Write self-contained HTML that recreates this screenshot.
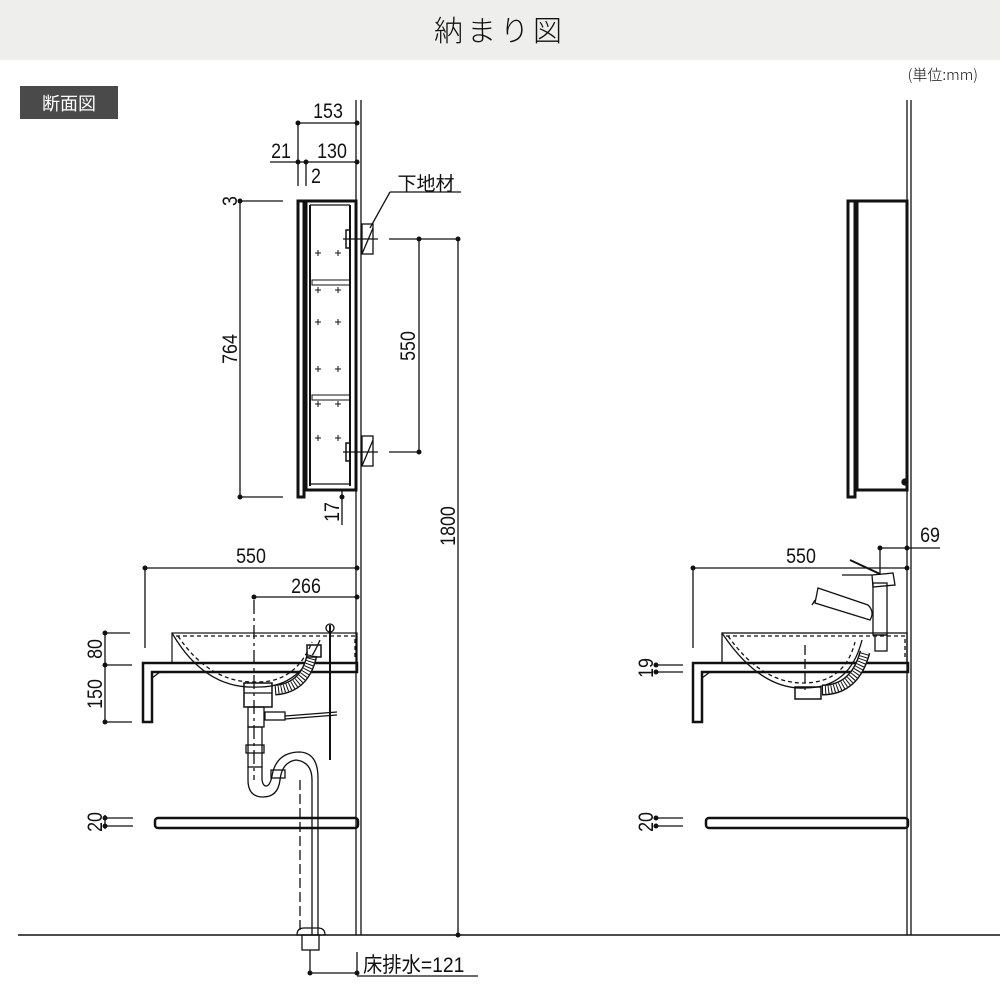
<!DOCTYPE html>
<html><head><meta charset="utf-8"><style>
html,body{margin:0;padding:0;background:#fff;}
svg{display:block;}
text{font-family:"Liberation Sans","Noto Sans CJK JP",sans-serif;fill:#111;}
</style></head><body>
<svg width="1000" height="1000" viewBox="0 0 1000 1000" xmlns="http://www.w3.org/2000/svg">
<rect x="0" y="0" width="1000" height="60" fill="#eeeeec"/>
<text x="500" y="41" font-size="29" text-anchor="middle" font-weight="300" fill="#333" style="font-family:'Noto Sans CJK JP',sans-serif;font-weight:300" letter-spacing="4">納まり図</text>
<text x="978" y="80" font-size="15" text-anchor="end" fill="#333" style="font-family:'Noto Sans CJK JP',sans-serif;font-weight:300">(単位:mm)</text>
<rect x="20" y="86" width="98" height="33" fill="#4a4a4a"/>
<text x="69" y="110" font-size="18" text-anchor="middle" style="fill:#fff">断面図</text>

<g stroke="#111" fill="none" stroke-width="1.3">
<line x1="356" y1="100" x2="356" y2="935"/><line x1="361" y1="100" x2="361" y2="935"/>
<line x1="907" y1="100" x2="907" y2="935"/><line x1="911" y1="100" x2="911" y2="935"/>
<line x1="18" y1="935" x2="1000" y2="935" stroke-width="1.5"/>

<rect x="298" y="201" width="6" height="296" stroke-width="3"/>
<rect x="306" y="201" width="50" height="289" stroke-width="3"/>
<line x1="310" y1="205" x2="310" y2="486" stroke-width="2"/>
<line x1="350" y1="205" x2="350" y2="486" stroke-width="2"/>
<line x1="310" y1="205" x2="350" y2="205"/>
<line x1="310" y1="484" x2="350" y2="484"/>
<rect x="312" y="280" width="38" height="5" stroke-width="1"/>
<rect x="312" y="395" width="38" height="5" stroke-width="1"/>
<rect x="346" y="230" width="4" height="18" stroke-width="1.5"/>
<rect x="346" y="443" width="4" height="18" stroke-width="1.5"/>
<rect x="362" y="224" width="11" height="30"/><line x1="362" y1="254" x2="373" y2="228"/>
<rect x="362" y="436" width="11" height="30"/><line x1="362" y1="466" x2="373" y2="440"/>
<line x1="343" y1="239" x2="378" y2="239"/><line x1="343" y1="452" x2="378" y2="452"/>
<g stroke-width="1">
<path d="M315,253h6M318,250v6M335,253h6M338,250v6 M315,290h6M318,287v6M335,290h6M338,287v6 M315,322h6M318,319v6M335,322h6M338,319v6 M315,369h6M318,366v6M335,369h6M338,366v6 M315,404h6M318,401v6M335,404h6M338,401v6 M315,438h6M318,435v6M335,438h6M338,435v6"/>
</g>
<line x1="298" y1="123" x2="357" y2="123"/>
<line x1="270" y1="162" x2="357" y2="162"/>
<line x1="298" y1="123" x2="298" y2="186"/>
<line x1="306" y1="162" x2="306" y2="186"/>
<line x1="240" y1="201" x2="240" y2="497"/>
<line x1="240" y1="201" x2="283" y2="201"/>
<line x1="240" y1="497" x2="283" y2="497"/>
<line x1="389" y1="239" x2="458" y2="239"/>
<line x1="389" y1="452" x2="419" y2="452"/>
<line x1="419" y1="239" x2="419" y2="452"/>
<line x1="458" y1="239" x2="458" y2="935"/>
<line x1="342" y1="490" x2="342" y2="525"/>
<line x1="390" y1="192" x2="461" y2="192"/>
<line x1="390" y1="192" x2="370" y2="228"/>
<line x1="145" y1="568" x2="357" y2="568"/>
<line x1="145" y1="568" x2="145" y2="648"/>
<line x1="254" y1="597" x2="357" y2="597"/>
<line x1="254" y1="600" x2="254" y2="780" stroke-dasharray="14,4,3,4"/>
<path d="M143,663 H357 V672 H152 V722 H143 Z" stroke-width="2.5"/>
<line x1="152" y1="678" x2="160" y2="672"/>
<rect x="172" y="633" width="185" height="30" stroke-width="1.2"/>
<path d="M176,636 H355 V660" stroke-dasharray="4,3"/>
<path d="M172,633 Q205,690 258,687 Q300,688 320,640" stroke-width="1.3"/>
<path d="M178,636 Q210,684 258,682 Q296,682 312,642" stroke-dasharray="4,3"/>
<path d="M275,690 Q305,688 312,655" stroke-width="11" stroke="#111"/>
<path d="M275,690 Q305,688 312,655" stroke-width="8" stroke="#fff"/>
<path d="M275,690 Q305,688 312,655" stroke-width="8" stroke="#111" stroke-dasharray="1,2"/>
<rect x="307" y="645" width="14" height="12" stroke-width="1.5"/>
<rect x="244" y="683" width="28" height="24" stroke-width="1.5"/>
<line x1="244" y1="693" x2="272" y2="693"/>
<rect x="248" y="707" width="16" height="20"/>
<rect x="265" y="712" width="20" height="8"/>
<line x1="285" y1="716" x2="337" y2="712"/>
<line x1="285" y1="719" x2="337" y2="715"/>
<line x1="330" y1="625" x2="330" y2="760" stroke-width="2"/>
<circle cx="330" cy="628" r="4"/>
<rect x="248" y="727" width="14" height="40"/>
<rect x="246" y="745" width="18" height="8"/>
<path d="M248,767 V780 Q248,797 263,797 Q278,797 280,780 Q282,762 296,760 Q312,762 312,780 V935"/>
<path d="M262,767 V780 Q263,786 266,786 Q270,786 272,776 Q276,752 300,752 Q318,753 318,778 V935" />
<path d="M300,780 V930" stroke-dasharray="10,4"/>
<rect x="271" y="770" width="14" height="8"/>
<path d="M297,935 Q297,928 304,928 H318 Q325,928 325,935 Z"/>
<rect x="302" y="935" width="17" height="15"/>
<line x1="310" y1="950" x2="310" y2="973"/>
<line x1="310" y1="973" x2="357" y2="973"/>
<line x1="357" y1="952" x2="357" y2="973"/>
<line x1="357" y1="976" x2="478" y2="976"/>
<line x1="105" y1="633" x2="105" y2="722"/>
<line x1="105" y1="633" x2="130" y2="633"/>
<line x1="105" y1="665" x2="132" y2="665"/>
<line x1="105" y1="722" x2="132" y2="722"/>
<line x1="105" y1="818" x2="133" y2="818"/>
<line x1="105" y1="826" x2="133" y2="826"/>
<line x1="105" y1="815" x2="105" y2="829"/>
<rect x="155" y="818" width="203" height="10" rx="3" stroke-width="2.5"/>

<rect x="848" y="201" width="7" height="296" stroke-width="3"/>
<rect x="857" y="201" width="50" height="289" stroke-width="3"/>
<circle cx="905" cy="482" r="3" fill="#111"/>
<line x1="693" y1="568" x2="907" y2="568"/>
<line x1="693" y1="568" x2="693" y2="648"/>
<line x1="880" y1="548" x2="940" y2="548"/>
<line x1="880" y1="548" x2="880" y2="575"/>
<path d="M693,663 H908 V672 H702 V722 H693 Z" stroke-width="2.5"/>
<line x1="702" y1="678" x2="710" y2="672"/>
<rect x="722" y="633" width="185" height="30"/>
<path d="M726,636 H905 V660" stroke-dasharray="4,3"/>
<path d="M722,633 Q760,690 805,688 Q850,688 862,640"/>
<path d="M728,636 Q762,684 805,683 Q845,682 855,642" stroke-dasharray="4,3"/>
<path d="M822,690 Q855,690 865,652" stroke-width="11"/>
<path d="M822,690 Q855,690 865,652" stroke-width="8" stroke="#fff"/>
<path d="M822,690 Q855,690 865,652" stroke-width="8" stroke-dasharray="1,2"/>
<rect x="795" y="687" width="26" height="12" stroke-width="1.5"/>
<line x1="805" y1="645" x2="805" y2="690" stroke-dasharray="10,4"/>
<rect x="873" y="583" width="14" height="52"/>
<rect x="875" y="635" width="12" height="16"/>
<path d="M872,575 L893,573 L895,585 L873,587 Z"/>
<line x1="850" y1="560" x2="880" y2="574" stroke-width="2"/>
<line x1="842" y1="575" x2="872" y2="575"/>
<path d="M818,588 L868,605 Q875,612 870,620 L815,603 Z"/>
<line x1="815" y1="600" x2="812" y2="605"/>
<line x1="655" y1="665" x2="683" y2="665"/>
<line x1="655" y1="672" x2="683" y2="672"/>
<line x1="655" y1="818" x2="683" y2="818"/>
<line x1="655" y1="826" x2="683" y2="826"/>
<rect x="706" y="818" width="202" height="10" rx="3" stroke-width="2.5"/>
</g>

<g fill="#111">
<circle cx="298" cy="123" r="2.5"/><circle cx="357" cy="123" r="2.5"/>
<circle cx="298" cy="162" r="2.5"/><circle cx="306" cy="162" r="2.5"/><circle cx="357" cy="162" r="2.5"/>
<circle cx="240" cy="201" r="2.5"/><circle cx="240" cy="497" r="2.5"/>
<circle cx="419" cy="239" r="2.5"/><circle cx="419" cy="452" r="2.5"/><circle cx="458" cy="239" r="2.5"/><circle cx="458" cy="935" r="2.5"/>
<circle cx="342" cy="497" r="2.5"/>
<circle cx="145" cy="568" r="2.5"/><circle cx="357" cy="568" r="2.5"/>
<circle cx="254" cy="597" r="2.5"/><circle cx="357" cy="597" r="2.5"/>
<circle cx="105" cy="633" r="2.5"/><circle cx="105" cy="665" r="2.5"/><circle cx="105" cy="722" r="2.5"/>
<circle cx="105" cy="818" r="2.5"/><circle cx="105" cy="826" r="2.5"/>
<circle cx="310" cy="973" r="2.5"/><circle cx="357" cy="973" r="2.5"/>
<circle cx="693" cy="568" r="2.5"/><circle cx="907" cy="568" r="2.5"/>
<circle cx="880" cy="548" r="2.5"/><circle cx="907" cy="548" r="2.5"/>
<circle cx="656" cy="665" r="2.5"/><circle cx="656" cy="672" r="2.5"/>
<circle cx="656" cy="818" r="2.5"/><circle cx="656" cy="826" r="2.5"/>
</g>

<g font-size="21">
<text x="328" y="118" text-anchor="middle" transform="translate(328 0) scale(0.85 1) translate(-328 0)">153</text>
<text x="281" y="158" text-anchor="middle" transform="translate(281 0) scale(0.85 1) translate(-281 0)">21</text>
<text x="332" y="158" text-anchor="middle" transform="translate(332 0) scale(0.85 1) translate(-332 0)">130</text>
<text x="316" y="183" text-anchor="middle" transform="translate(316 0) scale(0.85 1) translate(-316 0)">2</text>
<text x="426" y="190" text-anchor="middle" font-size="19">下地材</text>
<text transform="translate(237 201) rotate(-90) scale(0.85 1)" text-anchor="middle">3</text>
<text transform="translate(237 349) rotate(-90) scale(0.85 1)" text-anchor="middle">764</text>
<text transform="translate(415 346) rotate(-90) scale(0.85 1)" text-anchor="middle">550</text>
<text transform="translate(455 526) rotate(-90) scale(0.85 1)" text-anchor="middle">1800</text>
<text transform="translate(339 512) rotate(-90) scale(0.85 1)" text-anchor="middle">17</text>
<text x="251" y="563" text-anchor="middle" transform="translate(251 0) scale(0.85 1) translate(-251 0)">550</text>
<text x="306" y="593" text-anchor="middle" transform="translate(306 0) scale(0.85 1) translate(-306 0)">266</text>
<text transform="translate(102 649) rotate(-90) scale(0.85 1)" text-anchor="middle">80</text>
<text transform="translate(102 694) rotate(-90) scale(0.85 1)" text-anchor="middle">150</text>
<text transform="translate(102 822) rotate(-90) scale(0.85 1)" text-anchor="middle">20</text>
<text x="363" y="972" transform="translate(363 0) scale(0.92 1) translate(-363 0)">床排水=121</text>
<text x="801" y="563" text-anchor="middle" transform="translate(801 0) scale(0.85 1) translate(-801 0)">550</text>
<text x="930" y="542" text-anchor="middle" transform="translate(930 0) scale(0.85 1) translate(-930 0)">69</text>
<text transform="translate(653 668) rotate(-90) scale(0.85 1)" text-anchor="middle">19</text>
<text transform="translate(653 822) rotate(-90) scale(0.85 1)" text-anchor="middle">20</text>
</g>
</svg>
</body></html>
